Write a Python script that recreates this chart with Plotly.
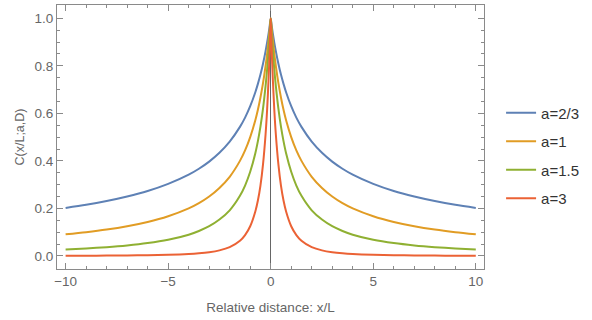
import plotly.graph_objects as go

# Values (right half, x >= 0); curves are symmetric about x = 0
x_half = [0, 0.05, 0.1, 0.175, 0.25, 0.375, 0.5, 0.625, 0.75, 1, 1.25, 1.5, 2, 2.5, 3, 3.5, 4, 5, 6, 7, 8, 9, 10]
c_a23 = [1.0, 0.968, 0.938, 0.898, 0.862, 0.809, 0.763, 0.724, 0.689, 0.630, 0.582, 0.543, 0.481, 0.434, 0.397, 0.367, 0.342, 0.303, 0.273, 0.250, 0.231, 0.215, 0.202]
c_a1 = [1.0, 0.952, 0.909, 0.851, 0.800, 0.727, 0.667, 0.615, 0.571, 0.500, 0.444, 0.400, 0.333, 0.286, 0.250, 0.222, 0.200, 0.167, 0.143, 0.125, 0.111, 0.100, 0.091]
c_a15 = [1.0, 0.929, 0.867, 0.785, 0.716, 0.620, 0.544, 0.483, 0.432, 0.354, 0.296, 0.253, 0.192, 0.153, 0.125, 0.105, 0.0894, 0.068, 0.054, 0.0442, 0.037, 0.0316, 0.0274]
c_a3 = [1.0, 0.864, 0.751, 0.616, 0.512, 0.385, 0.296, 0.233, 0.187, 0.125, 0.0878, 0.064, 0.037, 0.0233, 0.0156, 0.011, 0.008, 0.0046, 0.0029, 0.002, 0.0014, 0.001, 0.00075]

names = ["a=2/3", "a=1", "a=1.5", "a=3"]
series = [c_a23, c_a1, c_a15, c_a3]
colors = ["#5E81B5", "#E19C24", "#8FB032", "#EB6235"]

x_full = [-v for v in reversed(x_half)] + x_half[1:]

fig = go.Figure()
for name, vals, col in zip(names, series, colors):
    y_full = list(reversed(vals)) + vals[1:]
    fig.add_trace(go.Scatter(x=x_full, y=y_full, mode="lines", name=name,
                             legendgroup=name,
                             line=dict(color=col, width=2, shape="spline", smoothing=0.8)))

axis_col = "#8a8a8a"
font_col = "#666666"
fig.update_layout(
    width=592, height=320,
    margin=dict(l=57, r=108, t=5, b=51),
    paper_bgcolor="white", plot_bgcolor="white",
    font=dict(family="Liberation Sans, Arial, sans-serif", size=13, color=font_col),
    showlegend=True,
    legend=dict(x=1.04, xanchor="left", y=0.43, yanchor="middle",
                font=dict(size=15, color="#333333"),
                traceorder="grouped", tracegroupgap=6,
                itemwidth=30, bgcolor="rgba(0,0,0,0)"),
    xaxis=dict(range=[-10.42, 10.4], showgrid=False,
               zeroline=True, zerolinecolor="#666666", zerolinewidth=1,
               tickmode="array", tickvals=[-10, -5, 0, 5, 10],
               ticktext=["\u221210", "\u22125", "0", "5", "10"],
               ticks="inside", ticklen=6, tickcolor=axis_col, tickwidth=1,
               minor=dict(tickmode="array", tickvals=[v for v in range(-10, 11)],
                          ticks="inside", ticklen=3, tickcolor=axis_col, showgrid=False),
               showline=True, linecolor=axis_col, linewidth=1, mirror="ticks",
               title=dict(text="Relative distance: x/L", font=dict(size=13.5, color=font_col), standoff=14),
               tickfont=dict(size=13.5, color=font_col)),
    yaxis=dict(range=[-0.055, 1.056], showgrid=False, zeroline=False,
               tickmode="array", tickvals=[0, 0.2, 0.4, 0.6, 0.8, 1.0],
               ticktext=["0.0", "0.2", "0.4", "0.6", "0.8", "1.0"],
               ticks="inside", ticklen=6, tickcolor=axis_col, tickwidth=1,
               minor=dict(tickmode="array", tickvals=[i * 0.05 for i in range(0, 21)],
                          ticks="inside", ticklen=3, tickcolor=axis_col, showgrid=False),
               showline=True, linecolor=axis_col, linewidth=1, mirror="ticks",
               title=dict(text="C(x/L;a,D)", font=dict(size=12.5, color=font_col), standoff=7),
               tickfont=dict(size=13.5, color=font_col)),
)

fig.write_html("out.html")
